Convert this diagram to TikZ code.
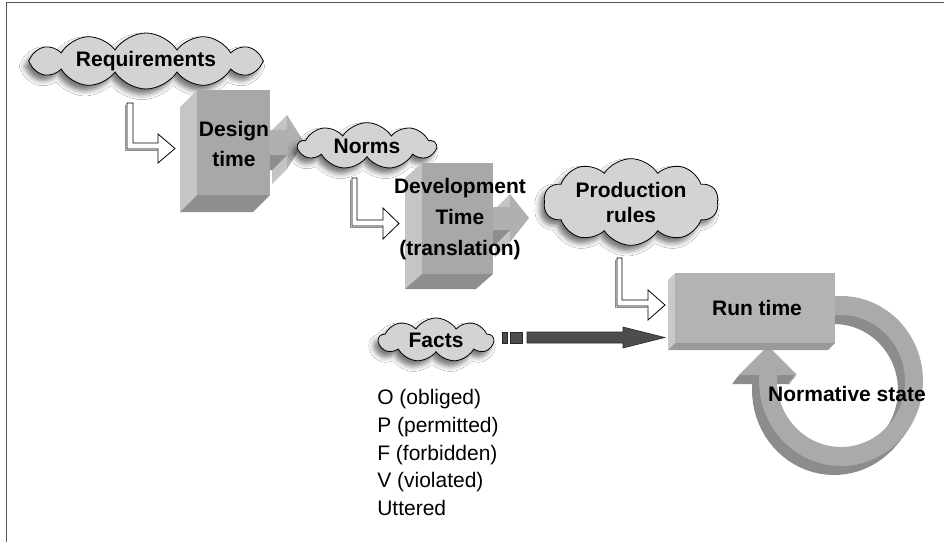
\documentclass[tikz,border=0pt]{standalone}
\usepackage{fontspec}
\setmainfont{Liberation Sans}
\usetikzlibrary{shapes.symbols,shadows.blur}

\definecolor{cloudfill}{HTML}{D3D3D3}
\definecolor{faceFront}{HTML}{A8A8A8}
\definecolor{faceLeft}{HTML}{C5C5C5}
\definecolor{faceBottom}{HTML}{8E8E8E}
\definecolor{runFront}{HTML}{B3B3B3}
\definecolor{runLeft}{HTML}{C9C9C9}
\definecolor{runBottom}{HTML}{999999}
\definecolor{arrowFront}{HTML}{B0B0B0}
\definecolor{arrowLight}{HTML}{C4C4C4}
\definecolor{arrowDark}{HTML}{8E8E8E}
\definecolor{frameGray}{HTML}{555555}
\definecolor{factsArrow}{HTML}{4D4D4D}
\definecolor{ringFace}{HTML}{AAAAAA}
\definecolor{ringSide}{HTML}{8C8C8C}

\begin{document}
\begin{tikzpicture}[x=0.75pt,y=-0.75pt,
  lbl/.style={font=\bfseries\fontsize{15.75pt}{22.5pt}\selectfont, align=center, inner sep=0pt},
  plain/.style={font=\fontsize{15.75pt}{20.85pt}\selectfont, align=left, inner sep=0pt},
  cloudbox/.style={shape=cloud, draw=black, line width=0.6pt, fill=cloudfill,
    cloud ignores aspect, cloud puff arc=115, inner sep=0pt, align=center,
    font=\bfseries\fontsize{15.75pt}{18.75pt}\selectfont,
    blur shadow={shadow xshift=-3pt, shadow yshift=-4pt, shadow blur radius=4pt, shadow opacity=55}},
  hollow/.style={fill=white, draw=black, line width=0.6pt},
  hollowshade/.style={draw=black!45, line width=0.6pt},
  frameline/.style={draw=frameGray, line width=1.2pt}
]
\useasboundingbox (0,0) rectangle (944,542);
\fill[white] (0,0) rectangle (944,542);

% outer frame (top and left edges)
\draw[frameline] (6,2.5) -- (944,2.5);
\draw[frameline] (6.5,2) -- (6.5,542);

% ---------------- Requirements -> Design time ----------------
\node[cloudbox, cloud puffs=12, minimum width=176pt, minimum height=42pt] (req) at (146,61) {Requirements};

\draw[hollowshade] (125.5,104.5) -- (125.5,150.5) -- (156.5,150.5);
\draw[hollow] (127,103) -- (133,103) -- (133,143) -- (158,143) -- (158,134) -- (175,148.5)
  -- (158,163) -- (158,149) -- (127,149) -- cycle;

% block arrow leaving the design box
\fill[arrowLight] (247,145) -- (272,145) -- (272,130) -- (289,157) -- (272,184) -- (272,170) -- (247,170) -- cycle;
\fill[arrowLight] (287,130) -- (287,115) -- (272,130) -- (272,145) -- cycle;
\fill[arrowLight] (287,169) -- (287,155) -- (272,170) -- (272,184) -- cycle;
\fill[arrowDark] (262,155) -- (287,155) -- (272,170) -- (247,170) -- cycle;
\fill[arrowFront] (262,130) -- (287,130) -- (287,115) -- (304,142) -- (287,169) -- (287,155) -- (262,155) -- cycle;

% design box
\fill[faceLeft] (197,90) -- (180,107) -- (180,212) -- (197,195) -- cycle;
\fill[faceBottom] (197,195) -- (270,195) -- (253,212) -- (180,212) -- cycle;
\fill[faceFront] (197,90) rectangle (270,195);
\node[lbl] (design) at (234,144) {Design\\time};

% ---------------- Norms -> Development time ----------------
\node[cloudbox, cloud puffs=9, minimum width=103pt, minimum height=35pt] (norms) at (367,146) {Norms};

\draw[hollowshade] (350.5,179.5) -- (350.5,227.5) -- (381.5,227.5);
\draw[hollow] (352,178) -- (357,178) -- (357,220) -- (383,220) -- (383,208) -- (399,223.5)
  -- (383,239) -- (383,226) -- (352,226) -- cycle;

% block arrow leaving the development box
\fill[arrowLight] (470,222) -- (495,222) -- (495,209) -- (514,233) -- (495,257) -- (495,245) -- (470,245) -- cycle;
\fill[arrowLight] (510,207) -- (510,194) -- (495,209) -- (495,222) -- cycle;
\fill[arrowLight] (510,242) -- (510,230) -- (495,245) -- (495,257) -- cycle;
\fill[arrowDark] (485,230) -- (510,230) -- (495,245) -- (470,245) -- cycle;
\fill[arrowFront] (485,207) -- (510,207) -- (510,194) -- (529,218) -- (510,242) -- (510,230) -- (485,230) -- cycle;

% development box
\fill[faceLeft] (422,163) -- (405,178) -- (405,289) -- (422,274) -- cycle;
\fill[faceBottom] (422,274) -- (493,274) -- (476,289) -- (405,289) -- cycle;
\fill[faceFront] (422,163) rectangle (493,274);
\node[lbl, font=\bfseries\fontsize{15.75pt}{23.25pt}\selectfont] (dev) at (460,219) {Development\\Time\\(translation)};

% ---------------- Production rules -> Run time ----------------
\node[cloudbox, cloud puffs=10, minimum width=131pt, minimum height=65pt] (prod) at (631,202) {Production\\rules};

% circular arrow of the normative state (extruded, drawn behind the run box)
\foreach \k in {7,6,...,1}{
  \fill[ringSide, shift={(-\k,{9*\k/7})}]
    plot[domain=265:540, samples=60, variable=\t] ({841+82*cos(\t)},{381+85*sin(\t)})
    -- (759,375) -- (739,375) -- (768,346) -- (797,375) -- (777,375)
    -- plot[domain=540:265, samples=60, variable=\t] ({841+64*cos(\t)},{381+66*sin(\t)}) -- cycle;
}
\fill[ringFace]
    plot[domain=265:540, samples=60, variable=\t] ({841+82*cos(\t)},{381+85*sin(\t)})
    -- (759,375) -- (739,375) -- (768,346) -- (797,375) -- (777,375)
    -- plot[domain=540:265, samples=60, variable=\t] ({841+64*cos(\t)},{381+66*sin(\t)}) -- cycle;

% run box
\fill[runLeft] (675,273) -- (668,280) -- (668,350) -- (675,343) -- cycle;
\fill[runBottom] (675,343) -- (835,343) -- (828,350) -- (668,350) -- cycle;
\fill[runFront] (675,273) rectangle (835,343);
\node[lbl] (run) at (757,308) {Run time};

\draw[hollowshade] (615.5,259.5) -- (615.5,307.5) -- (646.5,307.5);
\draw[hollow] (617,258) -- (622,258) -- (622,300) -- (648,300) -- (648,290) -- (665,305)
  -- (648,320) -- (648,306) -- (617,306) -- cycle;

\node[lbl] (normstate) at (847,394) {Normative state};

% ---------------- Facts -> Run time ----------------
\node[cloudbox, cloud puffs=9, minimum width=86pt, minimum height=33pt] (facts) at (436,340) {Facts};

\coordinate (factsTip) at (665,337.5);
\filldraw[fill=factsArrow, draw=black!85, line width=0.4pt] (502,332) rectangle (507,343);
\filldraw[fill=factsArrow, draw=black!85, line width=0.4pt] (510,332) rectangle (522,343);
\filldraw[fill=factsArrow, draw=black!85, line width=0.4pt]
  (527,332) -- (623,332) -- (623,327) -- (factsTip) -- (623,348) -- (623,343) -- (527,343) -- cycle;

\node[plain, anchor=west] (modes) at (377,452.5)
  {O (obliged)\\P (permitted)\\F (forbidden)\\V (violated)\\Uttered};
\end{tikzpicture}
\end{document}
